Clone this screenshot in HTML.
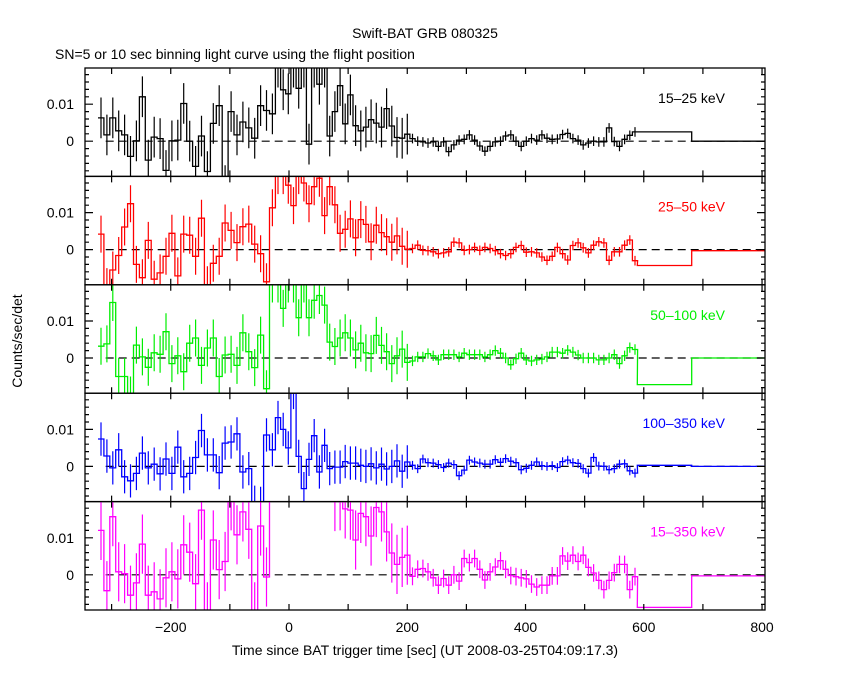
<!DOCTYPE html>
<html><head><meta charset="utf-8"><style>
html,body{margin:0;padding:0;background:#fff;}
svg{display:block;font-family:"Liberation Sans",sans-serif;}
</style></head><body>
<svg id="chart" width="850" height="680" viewBox="0 0 850 680" xmlns="http://www.w3.org/2000/svg">
<rect width="850" height="680" fill="#fff"/>
<text x="425" y="38" text-anchor="middle" font-size="14">Swift-BAT GRB 080325</text>
<text x="55" y="59" font-size="14">SN=5 or 10 sec binning light curve using the flight position</text>
<text x="425" y="655" text-anchor="middle" font-size="14">Time since BAT trigger time [sec] (UT 2008-03-25T04:09:17.3)</text>
<text x="22" y="341" text-anchor="middle" font-size="14" transform="rotate(-90 22 341)">Counts/sec/det</text>
<g id="panels"></g>
</svg>
<script>
// values in units of 1e-3 counts/sec/det
const binStart = -323;
const earlyBinCount = 30;
const earlyBinWidth = 10;
const lateBinWidth = 8.75;
const xTicks = [-300,-200,-100,0,100,200,300,400,500,600,700,800];
const xTickLabels = [-200,0,200,400,600,800];
const yLabelValues = [0, 10];
const bandLabels = ["15\u201325 keV","25\u201350 keV","50\u2013100 keV","100\u2013350 keV","15\u2013350 keV"];
const bandColors = ["#000000","#ff0000","#00ee00","#0000ff","#ff00ff"];

const band1 = [6.3,1.7,6.3,2.8,1.7,-4.1,0.1,12,-5.1,1.1,0.7,-7.9,0.1,0.3,10.2,0,-6.8,1.4,-8.2,4.8,9.6,-12,8,1.7,5.2,3.6,0.8,9.6,8.3,7.4,20,13.9,12.8,20,14.3,20,-0.8,20,15.4,20,1.4,8,15,4.7,12.5,4.2,2.8,3.8,5.8,4.9,3.8,8.8,4.1,1,0.8,1.9,
0.7,0,-0.2,-0.5,-0.2,-1.4,-0.2,-2.8,-1,0.3,0.5,1.7,0.3,-1.3,-2.7,-1.4,-0.2,0,1.4,1.7,0,-1.4,0,0.7,0.3,1.7,0.8,0.5,0.6,1.8,2.1,0.7,0.3,-1,-0.5,0,-0.2,-0.2,3.6,-0.1,-1.4,0.5,1.6,2.5];
const band2 = [4.2,-10,-5.5,-1.6,6.1,12.4,-4,-7.6,2.5,-8,-6.3,-1.8,4.4,-7.1,4.2,3.9,-1.8,8.5,-9.5,-3.7,-1.8,7.2,5.2,1.9,6.2,6.9,1.5,-1.1,-8.7,11.3,20,20,17.4,11.9,20,18,12.4,17,19.3,9.2,17,12.1,4.4,5.5,8.3,3.2,8.1,6.8,2.1,6.6,4.6,3.5,2,3.7,0.9,0.1,
0.3,1.2,-0.2,-0.3,-0.6,-1.1,-0.9,-0.6,2,1.8,-0.2,0,0.6,-0.2,0.6,0.3,-0.3,-1.1,-1.6,-1.1,0.6,1.1,-0.7,-0.6,-0.9,-2,-2.9,-1.8,0.6,-1.1,-2.8,1.1,1.8,0.5,-0.9,1.2,2.1,1.8,-2.9,-0.6,-0.6,1.2,2.6,-3];
const band3 = [3.2,3.8,15,-5,-5,-10,3.5,0.3,-2.5,1.4,1,7.1,-1.5,0.6,-3.7,4,5.4,-2,2.7,5.4,-5,0.8,1,-2,6.8,1.7,-2.6,6.2,-8.3,20,20,13.4,20,20,10.9,20,10.9,15.6,16.9,14.3,4.3,3.1,5.4,6.8,5.4,2.2,4,1.4,1.2,6.1,3.4,1.7,-1.5,0.6,2.4,-1.2,
-0.8,0.3,0.3,1.2,0.6,-0.5,0.9,0.9,0.9,0.3,1.3,0.9,0.9,0.9,0.3,0.9,2,1.3,0,-1.8,-0.2,1.3,-0.5,-0.8,-0.5,-0.3,0.3,1.6,1.6,1.3,2.1,1.6,0.8,0,0,0,-0.5,-0.5,0,0.9,-1.5,0.6,2.8,2.3];
const band4 = [7.4,2.8,-0.4,4.5,-2.8,-3.9,-1.9,3.6,-0.4,0.6,-2,2,-1.9,5.2,-2.8,-1.9,2.4,9.7,3.1,3.1,-1.7,6.3,6.6,8.8,-1.5,-0.6,-9.7,-10,8.5,4.5,13.2,10,5,20,2.7,-6,1.9,8.3,-1.5,5.7,-0.6,-0.2,-0.2,1.3,0.9,0.9,0.3,0,0.7,-0.4,0.6,-0.7,0,1.5,-1.3,1.2,
0.3,-0.6,2,1,0.9,0.5,-0.3,0.9,0.5,-2.5,-1,1.7,1.2,0.9,0.6,0.6,1.8,1.1,2.1,1.4,1,-0.9,-0.5,0.3,1.2,0.2,0,0.2,-0.3,1.3,1.7,1,0.8,-0.6,-1.8,2.4,0.1,0,-0.9,-0.6,0.6,0.7,-1.2,-1.8];
const band5 = [12,-4.3,15.7,0.8,0.3,-5.5,-2.2,8.3,-5.5,-4.6,-6.5,-0.8,0.8,-1.1,8.1,6.1,-2.4,17.5,-10,9.4,1.4,3.6,20,10.8,17,12.3,-10,13.2,-0.6,30,30,30,30,30,30,30,30,30,30,30,30,19.8,20,17.8,17.5,9.4,16.6,15.7,10.5,18.2,17,11.6,5.9,2.8,4.7,5.3,
-0.4,1.5,1.7,0.8,-0.8,-2.8,-1,-2.8,0,-1.7,4.4,3.3,4.4,1.5,-1.4,0.8,2.1,3.8,1.5,-0.2,-0.5,-0.8,-1.1,-2.5,-3.3,-2.8,-2.8,-0.3,-0.3,5.1,3.7,5.3,3.6,5.3,2,0.5,-1.5,-4,-1.5,0.6,2.8,2.8,-4,-0.5];
// error bars: [early bins, late bins]
const err1 = [5.5,1.3];
const err2 = [5,1.3];
const err3 = [5,1.4];
const err4 = [4.5,1.2];
const err5 = [8,2.4];
// long bins: [start,end,value]
const long1 = [[589,681,2.5],[681,805,0]];
const long2 = [[589,681,-4.3],[681,805,-0.3]];
const long3 = [[589,681,-7.2],[681,805,0]];
const long4 = [[589,681,0.3],[681,805,0]];
const long5 = [[589,681,-8.8],[681,805,-0.3]];

const series=[band1,band2,band3,band4,band5];
const errs=[err1,err2,err3,err4,err5];
const longs=[long1,long2,long3,long4,long5];
const NS="http://www.w3.org/2000/svg";
const L=85,R=765,T0=68,PH=108.4;
const xs=t=>289+t*0.5913;
function edge(i){
  if(i<=earlyBinCount) return binStart+i*earlyBinWidth;
  return binStart+earlyBinCount*earlyBinWidth+(i-earlyBinCount)*lateBinWidth;
}
function mk(tag,attrs,parent){const e=document.createElementNS(NS,tag);for(const k in attrs)e.setAttribute(k,attrs[k]);parent.appendChild(e);return e;}
const root=document.getElementById('panels');
const defs=mk('defs',{},root);
for(let p=0;p<5;p++){
  const top=T0+p*PH, bot=top+PH, zero=top+73.2;
  const ys=v=>zero-v*3.7;
  const g=mk('g',{},root);
  
  
  const cp=mk('clipPath',{id:'cp'+p},defs);
  mk('rect',{x:L,y:top,width:R-L,height:PH},cp);
  const col=bandColors[p];
  const dz=mk('line',{x1:xs(-310),x2:R,y1:zero,y2:zero,stroke:'#000','stroke-width':1.2,'stroke-dasharray':'8,5'},g);
  
  
  const sg=mk('g',{'clip-path':'url(#cp'+p+')'},g);
  
  
  const vals=series[p];
  let d='';
  for(let i=0;i<vals.length;i++){
    const x0=xs(edge(i)),x1=xs(edge(i+1)),y=ys(vals[i]);
    d+=(i===0?'M':'L')+x0.toFixed(1)+','+y.toFixed(1)+'L'+x1.toFixed(1)+','+y.toFixed(1);
  }
  const lg=longs[p];
  for(const b of lg){const y=ys(b[2]);d+='L'+xs(b[0]).toFixed(1)+','+y.toFixed(1)+'L'+xs(b[1]).toFixed(1)+','+y.toFixed(1);}
  const path=mk('path',{d:d,fill:'none',stroke:col,'stroke-width':1.3},sg);
  
  
  let ed='';
  for(let i=0;i<vals.length;i++){
    const xc=xs((edge(i)+edge(i+1))/2),e=errs[p][i<56?0:1];
    ed+='M'+xc.toFixed(1)+','+ys(vals[i]+e).toFixed(1)+'V'+ys(vals[i]-e).toFixed(1);
  }
  const eb=mk('path',{d:ed,fill:'none',stroke:col,'stroke-width':1.2},sg);
  
  
  const fr=mk('rect',{x:L,y:top,width:R-L,height:PH,fill:'none',stroke:'#000','stroke-width':1.3},g);
  
  
  let td='';
  for(const t of xTicks){const x=xs(t);td+='M'+x+','+top+'v6M'+x+','+bot+'v-6';}
  for(let v=-8;v<=18;v+=2){const y=ys(v);const len=(v%10===0)?8:4;td+='M'+L+','+y+'h'+len+'M'+R+','+y+'h-'+len;}
  const tk=mk('path',{d:td,stroke:'#000','stroke-width':1.2,fill:'none'},g);
  
  
  for(const v of yLabelValues){
    const t=mk('text',{x:74,y:ys(v)+5,'text-anchor':'end','font-size':14},g);
    
    
    t.textContent=v===0?'0':(v/1000).toString();
  }
  const bl=mk('text',{x:725,y:top+35,'text-anchor':'end','font-size':14,fill:col},g);
  
  
  bl.textContent=bandLabels[p];
}
const svg=document.getElementById('chart');
for(const t of xTickLabels){
  const tx=mk('text',{x:xs(t),y:632,'text-anchor':'middle','font-size':14},svg);
  
  
  tx.textContent=t<0?'\u2212'+(-t):String(t);
}
</script>
</body></html>
